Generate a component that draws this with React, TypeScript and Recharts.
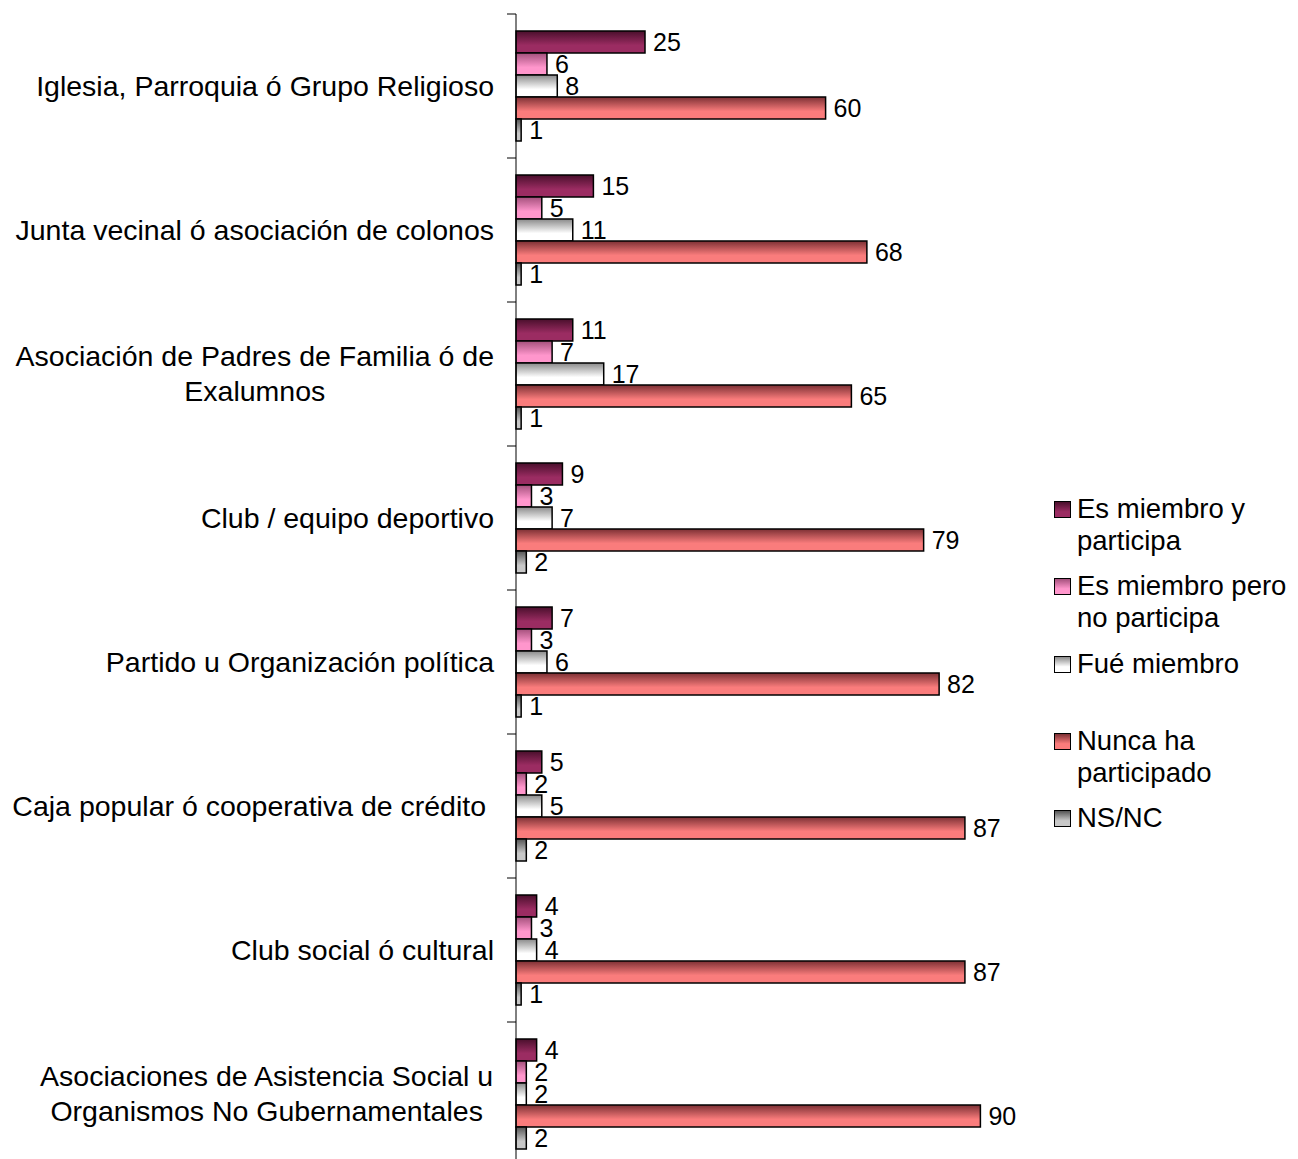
import { BarChart, Bar, XAxis, YAxis, LabelList } from "recharts";

// the chart runs past the bottom of the window, like the reference; keep scrollbars out
document.documentElement.style.overflow = "hidden";

const CATEGORIES = [
  "Iglesia, Parroquia ó Grupo Religioso",
  "Junta vecinal ó asociación de colonos",
  "Asociación de Padres de Familia ó de\nExalumnos",
  "Club / equipo deportivo",
  "Partido u Organización política",
  "Caja popular ó cooperativa de crédito ",
  "Club social ó cultural",
  "Asociaciones de Asistencia Social u\nOrganismos No Gubernamentales",
];

const SERIES_NAMES = [
  "Es miembro y participa",
  "Es miembro pero no participa",
  "Fué miembro",
  "Nunca ha participado",
  "NS/NC",
];

// how the legend wraps each name
const LEGEND_LINES = [
  ["Es miembro y", "participa"],
  ["Es miembro pero", "no participa"],
  ["Fué miembro"],
  ["Nunca ha", "participado"],
  ["NS/NC"],
];

const MIEMBRO_PARTICIPA = [25, 15, 11, 9, 7, 5, 4, 4];
const MIEMBRO_NO_PARTICIPA = [6, 5, 7, 3, 3, 2, 3, 2];
const FUE_MIEMBRO = [8, 11, 17, 7, 6, 5, 4, 2];
const NUNCA = [60, 68, 65, 79, 82, 87, 87, 90];
const NSNC = [1, 1, 1, 2, 1, 2, 1, 2];

const SERIES_VALUES = [MIEMBRO_PARTICIPA, MIEMBRO_NO_PARTICIPA, FUE_MIEMBRO, NUNCA, NSNC];

// top (dark) -> bottom (light)
const GRADIENTS = [
  ["#4a0f2c", "#9b2c62"],
  ["#a4507c", "#ff96cc"],
  ["#8a8a8a", "#ffffff"],
  ["#7c3034", "#fa7c7c"],
  ["#555555", "#c8c8c8"],
];

const FONT = "'Liberation Sans', Arial, sans-serif";
const LABEL_SIZE = 28.5;
const LEGEND_SIZE = 27.5;
const W = 1290;
const H = 1160;
const MARGIN = { top: 6, right: 266, bottom: 2, left: 0 };
const AXIS_W = 508;
const AXIS_X = MARGIN.left + AXIS_W;
const BAND = (H - MARGIN.top - MARGIN.bottom) / CATEGORIES.length;

const data = CATEGORIES.map((name, i) => {
  const row: Record<string, string | number> = { name };
  SERIES_NAMES.forEach((s, j) => {
    row[s] = SERIES_VALUES[j][i];
  });
  return row;
});

let ctx: CanvasRenderingContext2D | null = null;
function textWidth(t: string, size: number) {
  if (!ctx) ctx = document.createElement("canvas").getContext("2d");
  if (!ctx) return t.length * size * 0.5;
  ctx.font = `${size}px ${FONT}`;
  return ctx.measureText(t).width;
}

function CategoryTick(props: any) {
  const { y, payload, index } = props;
  const lines = String(payload.value).split("\n");
  const right = AXIS_X - 22;
  const lineH = 35;
  let text;
  if (lines.length === 1) {
    text = (
      <text x={right} y={y} dy="0.35em" textAnchor="end" fontSize={LABEL_SIZE} fill="#000" style={{ whiteSpace: "pre" }}>
        {lines[0]}
      </text>
    );
  } else {
    const maxW = Math.max(...lines.map((l) => textWidth(l, LABEL_SIZE)));
    const cx = right - maxW / 2;
    text = (
      <text textAnchor="middle" fontSize={LABEL_SIZE} fill="#000">
        {lines.map((l, k) => (
          <tspan key={k} x={cx} y={y + (k - (lines.length - 1) / 2) * lineH} dy="0.35em">
            {l}
          </tspan>
        ))}
      </text>
    );
  }
  return (
    <g>
      <line x1={AXIS_X - 9} x2={AXIS_X} y1={y - BAND / 2} y2={y - BAND / 2} stroke="#000" />
      {index === CATEGORIES.length - 1 && (
        <line x1={AXIS_X - 9} x2={AXIS_X} y1={y + BAND / 2} y2={y + BAND / 2} stroke="#000" />
      )}
      {text}
    </g>
  );
}

function LegendBox() {
  return (
    <div style={{ position: "absolute", left: 1046, top: 485, width: 240, fontFamily: FONT }}>
      {LEGEND_LINES.map((lines, i) => (
        <div key={i} style={{ position: "absolute", left: 0, top: i * 77.25, display: "flex" }}>
          <div
            style={{
              width: 15,
              height: 15,
              marginTop: 8,
              marginRight: 6,
              border: "1.5px solid #000",
              background: `linear-gradient(to bottom, ${GRADIENTS[i][0]}, ${GRADIENTS[i][1]} 65%, ${GRADIENTS[i][1]})`,
            }}
          />
          <div style={{ fontSize: LEGEND_SIZE, lineHeight: "32px", color: "#000", whiteSpace: "nowrap" }}>
            {lines.map((l, k) => (
              <div key={k}>{l}</div>
            ))}
          </div>
        </div>
      ))}
    </div>
  );
}

export default function App() {
  return (
    <div style={{ position: "relative", width: W, height: H, fontFamily: FONT }}>
      <BarChart
        width={W}
        height={H}
        data={data}
        layout="vertical"
        margin={MARGIN}
        barCategoryGap={17}
        barGap={0}
        style={{ fontFamily: FONT }}
      >
        <defs>
          {GRADIENTS.map(([top, bottom], i) => (
            <linearGradient key={i} id={`grad-${i}`} x1="0" y1="0" x2="0" y2="1">
              <stop offset="0%" stopColor={top} />
              <stop offset="65%" stopColor={bottom} />
              <stop offset="100%" stopColor={bottom} />
            </linearGradient>
          ))}
        </defs>
        <XAxis type="number" domain={[0, 100]} hide />
        <YAxis
          type="category"
          dataKey="name"
          width={AXIS_W}
          interval={0}
          tickLine={false}
          axisLine={{ stroke: "#000" }}
          tick={(p: any) => <CategoryTick {...p} />}
        />
        {SERIES_NAMES.map((s, i) => (
          <Bar
            key={s}
            dataKey={s}
            fill={`url(#grad-${i})`}
            stroke="#000"
            strokeWidth={1.5}
            isAnimationActive={false}
          >
            <LabelList dataKey={s} position="right" offset={8} fontSize={25} fill="#000" />
          </Bar>
        ))}
      </BarChart>
      <LegendBox />
    </div>
  );
}
